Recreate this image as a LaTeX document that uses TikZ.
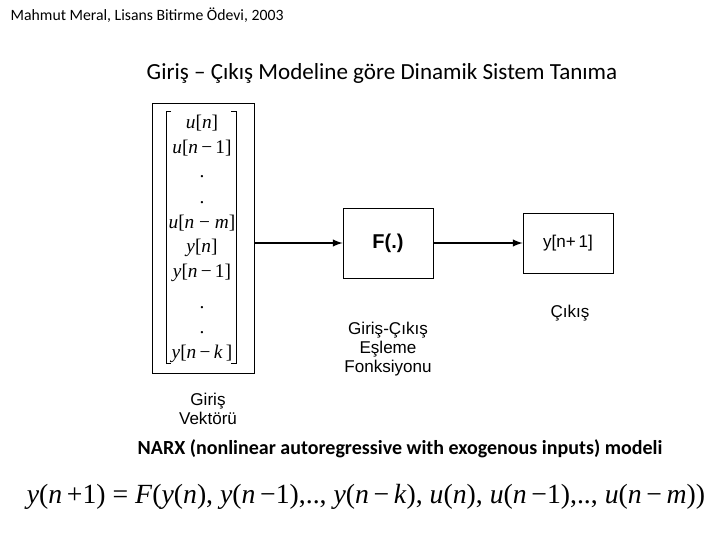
\documentclass[tikz,border=0pt]{standalone}
\usepackage{fontspec}
\usepackage{tikz}
\usetikzlibrary{arrows,positioning}
\newfontfamily\calib{Carlito}
\newfontfamily\arialf{Liberation Sans}
\newfontfamily\tnr{Liberation Serif}
\newcommand{\vi}[1]{\textit{#1}}

\begin{document}
\begin{tikzpicture}[x=0.75pt,y=-0.75pt,
  blok/.style={rectangle,draw=black,line width=0.6pt,minimum width=67.5pt,minimum height=51pt},
  yazi/.style={font=\arialf\fontsize{12.8}{14.5}\selectfont,align=center},
  eleman/.style={font=\tnr\fontsize{14.5}{16}\selectfont,inner sep=0pt},
  akis/.style={-latex,line width=1.5pt}]
\useasboundingbox (0,0) rectangle (720,540);

\node[anchor=west,font=\calib\fontsize{11.8}{13}\selectfont] (baslik) at (6,15) {Mahmut Meral, Lisans Bitirme \"Odevi, 2003};
\node[font=\calib\fontsize{17.3}{20}\selectfont] (konu) at (382,73) {Giriş – Çıkış Modeline göre Dinamik Sistem Tanıma};

% giris vektoru
\node[rectangle,draw=black,line width=0.6pt,minimum width=77pt,minimum height=203pt] (vek) at (203.5,238.5) {};
\draw[line width=0.5pt] (171,111) -- (166,111) -- (166,363) -- (171,363);
\draw[line width=0.5pt] (231,111) -- (236,111) -- (236,363) -- (231,363);
\node[eleman] (u0) at (202,123) {\vi{u}[\vi{n}]};
\node[eleman] (u1) at (202,148) {\vi{u}[\vi{n}\,−\,1]};
\node[eleman] (d1) at (202,177) {.};
\node[eleman] (d2) at (202,203) {.};
\node[eleman] (um) at (202,223) {\vi{u}[\vi{n} − \vi{m}]};
\node[eleman] (y0) at (202,248) {\vi{y}[\vi{n}]};
\node[eleman] (y1) at (202,273) {\vi{y}[\vi{n}\,−\,1]};
\node[eleman] (d3) at (202,308) {.};
\node[eleman] (d4) at (202,333) {.};
\node[eleman] (yk) at (202,354) {\vi{y}[\vi{n}\,−\,\vi{k}\,]};
\node[yazi] (vekad) at (208,409) {Giriş\\Vektörü};

% esleme fonksiyonu ve cikis
\node[blok,minimum height=52.5pt] (fonk) at (388,243) {\arialf\fontsize{15}{17}\selectfont\bfseries F(.)};
\node[blok,minimum height=45pt] (cikis) at (568,243) {\arialf\fontsize{12.8}{14}\selectfont y[n+\,1]};
\draw[akis] (vek.east |- fonk.west) -- (fonk.west);
\draw[akis] (fonk.east) -- (cikis.west);
\node[yazi] (fonkad) at (388,349) {Giriş-Çıkış\\Eşleme\\Fonksiyonu};
\node[yazi] (cikisad) at (570,313) {Çıkış};

\node[font=\calib\fontsize{15}{18}\selectfont\bfseries] (narx) at (400,449) {NARX (nonlinear autoregressive with exogenous inputs) modeli};
\node[font=\tnr\fontsize{20.8}{24}\selectfont] (denklem) at (366,497) {\vi{y}(\vi{n}\,+1) = \vi{F}(\vi{y}(\vi{n}), \vi{y}(\vi{n}\,−1),.., \vi{y}(\vi{n}\,−\,\vi{k}), \vi{u}(\vi{n}), \vi{u}(\vi{n}\,−1),.., \vi{u}(\vi{n}\,−\,\vi{m}))};
\end{tikzpicture}
\end{document}
